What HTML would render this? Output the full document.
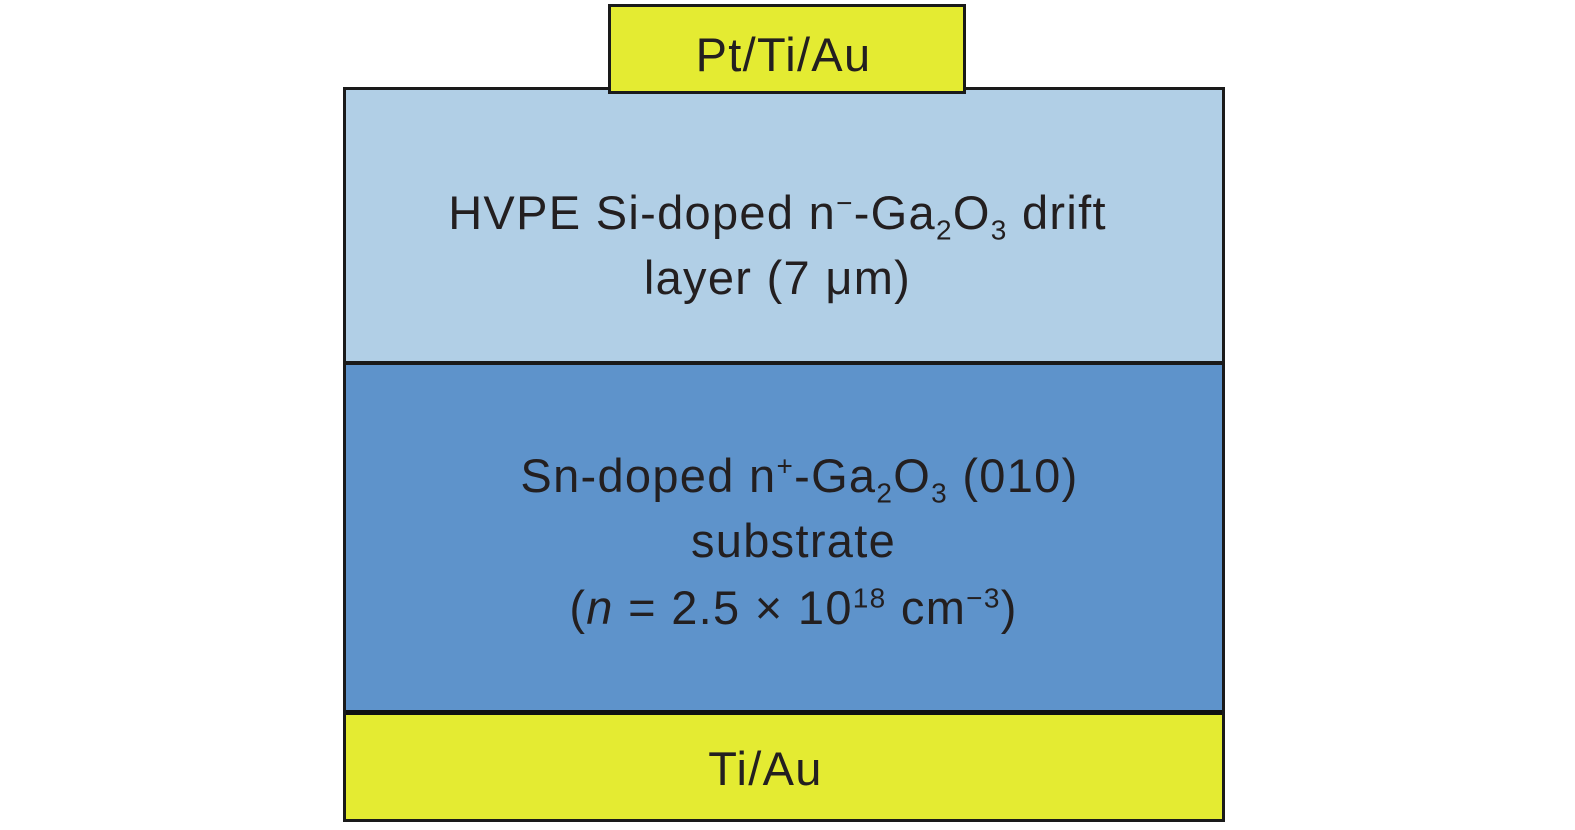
<!DOCTYPE html>
<html><head><meta charset="utf-8"><style>
body{margin:0;width:1575px;height:830px;background:#fff;position:relative;overflow:hidden;font-family:"Liberation Sans",sans-serif;color:#231f20}
.b{position:absolute;box-sizing:border-box}
.t{position:absolute;left:0;width:1575px;text-align:center;font-size:47px;letter-spacing:1.3px;line-height:1;white-space:nowrap}
sub,sup{font-size:28px;line-height:0}
</style></head><body>
<div class="b" style="left:343px;top:87px;width:882px;height:735px;border:3px solid #1a1a1a;background:#e4eb32"></div>
<div class="b" style="left:346px;top:90px;width:876px;height:271px;background:#b1cfe6"></div>
<div class="b" style="left:346px;top:361px;width:876px;height:4px;background:#1a1a1a"></div>
<div class="b" style="left:346px;top:365px;width:876px;height:345px;background:#5e93cb"></div>
<div class="b" style="left:346px;top:710px;width:876px;height:5px;background:#111"></div>
<div class="b" style="left:608px;top:4px;width:358px;height:90px;border:3px solid #1a1a1a;background:#e4eb32"></div>
<div class="t" style="top:31px;left:-4px">Pt/Ti/Au</div>
<div class="t" style="top:189px;left:-10px">HVPE Si-doped n<sup>−</sup>-Ga<sub>2</sub>O<sub>3</sub> drift</div>
<div class="t" style="top:254px;left:-10px">layer (7 μm)</div>
<div class="t" style="top:452px;left:12px">Sn-doped n<sup>+</sup>-Ga<sub>2</sub>O<sub>3</sub> (010)</div>
<div class="t" style="top:517px;left:6px">substrate</div>
<div class="t" style="top:584px;left:6px">(<i>n</i> = 2.5 × 10<sup>18</sup> cm<sup>−3</sup>)</div>
<div class="t" style="top:745px;left:-22px">Ti/Au</div>
</body></html>
